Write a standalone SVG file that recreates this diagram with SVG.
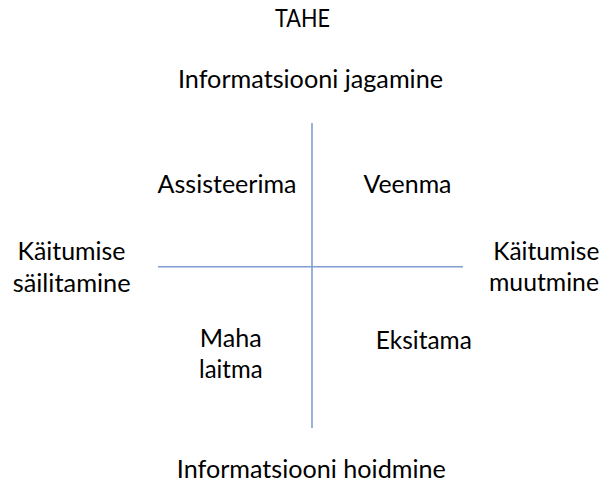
<svg xmlns="http://www.w3.org/2000/svg" width="606" height="486" viewBox="0 0 606 486">
<style>
text{font-family:Lato,"Liberation Sans",sans-serif;font-size:24.5px;fill:#000;text-anchor:middle}
.ax{stroke:#7f9ed2;stroke-width:1.6;fill:none}
</style>
<rect width="606" height="486" fill="#fff"/>
<g id="connectors">
<line class="ax" x1="312" y1="123" x2="312" y2="428"/>
<line class="ax" x1="158" y1="266.7" x2="463" y2="266.7"/>
</g>
<g id="title"><text x="302.5" y="27" textLength="55" lengthAdjust="spacingAndGlyphs">TAHE</text></g>
<g id="top"><text x="310.5" y="88" textLength="265" lengthAdjust="spacingAndGlyphs">Informatsiooni jagamine</text></g>
<g id="bottom"><text x="311.3" y="478" textLength="269" lengthAdjust="spacingAndGlyphs">Informatsiooni hoidmine</text></g>
<g id="left"><text x="71.5" y="260" textLength="108" lengthAdjust="spacingAndGlyphs">Käitumise</text><text x="71.7" y="291.5" textLength="118" lengthAdjust="spacingAndGlyphs">säilitamine</text></g>
<g id="right"><text x="546.3" y="260" textLength="106" lengthAdjust="spacingAndGlyphs">Käitumise</text><text x="544" y="290.5" textLength="110" lengthAdjust="spacingAndGlyphs">muutmine</text></g>
<g id="q-assisteerima"><text x="227" y="193" textLength="139" lengthAdjust="spacingAndGlyphs">Assisteerima</text></g>
<g id="q-veenma"><text x="407.5" y="193" textLength="88" lengthAdjust="spacingAndGlyphs">Veenma</text></g>
<g id="q-maha"><text x="230.8" y="346.7" textLength="62" lengthAdjust="spacingAndGlyphs">Maha</text><text x="230.8" y="378" textLength="63.5" lengthAdjust="spacingAndGlyphs">laitma</text></g>
<g id="q-eksitama"><text x="423.8" y="349" textLength="96" lengthAdjust="spacingAndGlyphs">Eksitama</text></g>
</svg>
